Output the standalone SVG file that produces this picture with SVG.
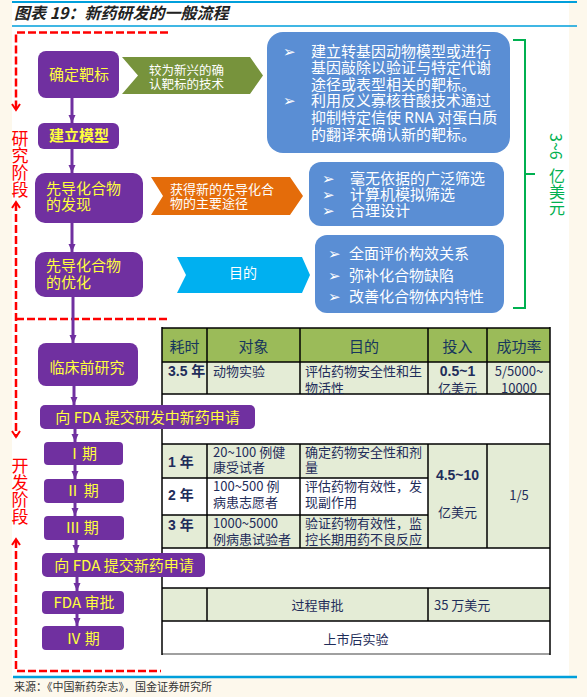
<svg xmlns="http://www.w3.org/2000/svg" width="587" height="697" viewBox="0 0 587 697">
<defs>
<style>
text{font-family:"Noto Sans CJK SC","Noto Sans","DejaVu Sans",sans-serif;}
.nd{fill:#7030A0;}
.nt{fill:#FFFF3C;font-size:15px;}
.wt{fill:#FFFFFF;}
.bx{fill:#5A8ED4;}
.tb{fill:#1F2D5A;font-size:13px;}
.th{fill:#17365D;font-size:15px;text-anchor:middle;}
.bd{font-family:"Liberation Sans","Noto Sans CJK SC",sans-serif;font-weight:bold;font-size:14px;}
.red{fill:#FF0000;font-size:17px;writing-mode:vertical-rl;}
.grn{fill:#00B050;font-size:16px;writing-mode:vertical-rl;}
.dash{stroke:#FF0000;stroke-width:2.5;stroke-dasharray:8 3;fill:none;}
.rarr{stroke:#FF0000;stroke-width:2;fill:none;}
.conn{stroke:#7030A0;stroke-width:3;fill:none;marker-end:url(#ah);}
.tl{stroke:#000;stroke-width:1.5;}
.lg{fill:#E4ECD6;}
</style>
<marker id="ah" viewBox="0 0 8 8" refX="8" refY="4" markerWidth="8" markerHeight="8" orient="auto" markerUnits="userSpaceOnUse"><path d="M0,0.5 L8,4 L0,7.5 z" fill="#7030A0"/></marker>
</defs>

<!-- background -->
<rect x="0" y="0" width="587" height="697" fill="#FDF8EC"/>
<rect x="12" y="0" width="557" height="677" fill="#FFFFFF"/>
<line x1="12" y1="2" x2="577" y2="2" stroke="#009FDB" stroke-width="2"/>
<line x1="12" y1="26" x2="577" y2="26" stroke="#009FDB" stroke-width="1.5"/>
<line x1="13" y1="677" x2="577" y2="677" stroke="#009FDB" stroke-width="2.5"/>
<text x="14" y="19" font-size="16" font-weight="bold" font-style="italic" fill="#222">图表 19：新药研发的一般流程</text>
<text x="14" y="691" font-size="11" fill="#333">来源：《中国新药杂志》，国金证券研究所</text>

<!-- table -->
<g id="table">
<rect x="162" y="328" width="388" height="34" fill="#9BBB59"/>
<rect x="162" y="362" width="388" height="32" class="lg"/>
<rect x="162" y="444" width="266" height="34" class="lg"/>
<rect x="162" y="515" width="266" height="33" class="lg"/>
<rect x="428" y="444" width="122" height="104" class="lg"/>
<rect x="162" y="588" width="388" height="33" class="lg"/>
<line class="tl" x1="162" y1="328" x2="550" y2="328"/>
<line class="tl" x1="162" y1="362" x2="550" y2="362"/>
<line class="tl" x1="162" y1="394" x2="550" y2="394"/>
<line class="tl" x1="162" y1="444" x2="550" y2="444"/>
<line class="tl" x1="162" y1="478" x2="428" y2="478"/>
<line class="tl" x1="162" y1="515" x2="428" y2="515"/>
<line class="tl" x1="162" y1="548" x2="550" y2="548"/>
<line class="tl" x1="162" y1="588" x2="550" y2="588"/>
<line class="tl" x1="162" y1="621" x2="550" y2="621"/>
<line x1="162" y1="654" x2="550" y2="654" stroke="#808080" stroke-width="1.5"/>
<line class="tl" x1="162" y1="327" x2="162" y2="655"/>
<line class="tl" x1="550" y1="327" x2="550" y2="655"/>
<line class="tl" x1="207" y1="328" x2="207" y2="394"/>
<line class="tl" x1="300" y1="328" x2="300" y2="394"/>
<line class="tl" x1="428" y1="328" x2="428" y2="394"/>
<line class="tl" x1="487" y1="328" x2="487" y2="394"/>
<line class="tl" x1="207" y1="444" x2="207" y2="548"/>
<line class="tl" x1="300" y1="444" x2="300" y2="548"/>
<line class="tl" x1="428" y1="444" x2="428" y2="548"/>
<line class="tl" x1="487" y1="444" x2="487" y2="548"/>
<line class="tl" x1="207" y1="588" x2="207" y2="621"/>
<line class="tl" x1="428" y1="588" x2="428" y2="621"/>

<text class="th" x="184.5" y="351.5">耗时</text>
<text class="th" x="253.5" y="351.5">对象</text>
<text class="th" x="364" y="351.5">目的</text>
<text class="th" x="457.5" y="351.5">投入</text>
<text class="th" x="519" y="351.5">成功率</text>

<text class="tb bd" x="168" y="376">3.5 年</text>
<text class="tb" x="213" y="376">动物实验</text>
<text class="tb"><tspan x="305" y="376">评估药物安全性和生</tspan><tspan x="305" y="393">物活性</tspan></text>
<text class="tb" text-anchor="middle"><tspan class="bd" x="457.5" y="376">0.5~1</tspan><tspan x="457.5" y="393">亿美元</tspan></text>
<text class="tb" text-anchor="middle"><tspan x="519" y="376">5/5000~</tspan><tspan x="519" y="393">10000</tspan></text>

<text class="tb bd" x="168" y="467">1 年</text>
<text class="tb"><tspan x="213" y="456.5">20~100 例健</tspan><tspan x="213" y="472">康受试者</tspan></text>
<text class="tb"><tspan x="305" y="456.5">确定药物安全性和剂</tspan><tspan x="305" y="472">量</tspan></text>
<text class="tb bd" x="168" y="500">2 年</text>
<text class="tb"><tspan x="213" y="490.5">100~500 例</tspan><tspan x="213" y="506.5">病患志愿者</tspan></text>
<text class="tb"><tspan x="305" y="490.5">评估药物有效性，发</tspan><tspan x="305" y="506.5">现副作用</tspan></text>
<text class="tb bd" x="168" y="530">3 年</text>
<text class="tb"><tspan x="213" y="528">1000~5000</tspan><tspan x="213" y="544">例病患试验者</tspan></text>
<text class="tb"><tspan x="305" y="528">验证药物有效性，监</tspan><tspan x="305" y="544">控长期用药不良反应</tspan></text>
<text class="tb" text-anchor="middle"><tspan class="bd" x="457.5" y="480">4.5~10</tspan><tspan x="457.5" y="516.5">亿美元</tspan></text>
<text class="tb" x="519" y="500" text-anchor="middle">1/5</text>

<text class="tb" x="317.5" y="610" text-anchor="middle">过程审批</text>
<text class="tb" x="434" y="610">35 万美元</text>
<text class="tb" x="356" y="644" text-anchor="middle">上市后实验</text>
</g>

<!-- stage markers -->
<g id="stages">
<path class="dash" d="M168,32.5 H16 V110"/>
<polyline class="rarr" points="12,104 16,110 20,104"/>
<text class="red" x="20" y="130">研究阶段</text>
<polyline class="rarr" points="12,208 16,202 20,208"/>
<path class="dash" d="M16,203 V437"/>
<path class="dash" d="M16,319 H167"/>
<polyline class="rarr" points="12,431 16,437 20,431"/>
<text class="red" x="20" y="457">开发阶段</text>
<polyline class="rarr" points="12,545 16,539 20,545"/>
<path class="dash" d="M16,540 V671 H161"/>
</g>

<!-- connectors -->
<g id="connectors">
<path class="conn" d="M72,98 V123"/>
<path class="conn" d="M72,149 V173"/>
<path class="conn" d="M72,223 V252"/>
<path class="conn" d="M73,297 V343"/>
<path class="conn" d="M74,386 V405"/>
<path class="conn" d="M75,429 V442"/>
<path class="conn" d="M75,465 V479"/>
<path class="conn" d="M75,503 V516"/>
<path class="conn" d="M76,540 V553"/>
<path class="conn" d="M77,577 V591"/>
<path class="conn" d="M77,614 V626"/>
</g>

<!-- nodes -->
<g id="n-target"><rect class="nd" x="38" y="51" width="81" height="47" rx="8"/><text class="nt" x="79" y="80" text-anchor="middle">确定靶标</text></g>
<g id="n-model"><rect class="nd" x="38" y="123" width="81" height="26" rx="6"/><text class="nt" x="79" y="141" text-anchor="middle" font-weight="bold">建立模型</text></g>
<g id="n-lead-find"><rect class="nd" x="35" y="173" width="108" height="50" rx="10"/><text class="nt"><tspan x="46" y="194">先导化合物</tspan><tspan x="46" y="210">的发现</tspan></text></g>
<g id="n-lead-opt"><rect class="nd" x="35" y="252" width="108" height="45" rx="10"/><text class="nt"><tspan x="46" y="271">先导化合物</tspan><tspan x="46" y="288">的优化</tspan></text></g>
<g id="n-preclin"><rect class="nd" x="38" y="343" width="100" height="43" rx="8"/><text class="nt" x="87" y="373" text-anchor="middle">临床前研究</text></g>
<g id="n-ind"><rect class="nd" x="40" y="405" width="215" height="24" rx="5"/><text class="nt" x="147.5" y="423" text-anchor="middle">向 FDA 提交研发中新药申请</text></g>
<g id="n-p1"><rect class="nd" x="44" y="442" width="79" height="23" rx="4"/><text class="nt" x="82" y="459" text-anchor="middle">Ⅰ期</text></g>
<g id="n-p2"><rect class="nd" x="44" y="479" width="80" height="24" rx="4"/><text class="nt" x="82" y="496" text-anchor="middle">Ⅱ 期</text></g>
<g id="n-p3"><rect class="nd" x="44" y="516" width="80" height="24" rx="4"/><text class="nt" x="82" y="533" text-anchor="middle">Ⅲ 期</text></g>
<g id="n-nda"><rect class="nd" x="42" y="553" width="163" height="24" rx="5"/><text class="nt" x="124" y="571" text-anchor="middle">向 FDA 提交新药申请</text></g>
<g id="n-fda"><rect class="nd" x="42" y="591" width="82" height="23" rx="4"/><text class="nt" x="84" y="608" text-anchor="middle">FDA 审批</text></g>
<g id="n-p4"><rect class="nd" x="42" y="626" width="82" height="24" rx="4"/><text class="nt" x="83" y="644" text-anchor="middle">Ⅳ 期</text></g>

<!-- chevrons -->
<g id="c-green"><polygon points="122,57 250,57 263,75.5 250,94 122,94 138,75.5" fill="#77933C"/><text class="wt" font-size="12.5"><tspan x="149" y="75">较为新兴的确</tspan><tspan x="149" y="89">认靶标的技术</tspan></text></g>
<g id="c-orange"><polygon points="151,177 290,177 303,196 290,215 151,215 163,196" fill="#E46C0A"/><text class="wt" font-size="13"><tspan x="170" y="194">获得新的先导化合</tspan><tspan x="170" y="207.5">物的主要途径</tspan></text></g>
<g id="c-cyan"><polygon points="177,257 302,257 310,275 302,293 177,293 186,275" fill="#00B0F0"/><text class="wt" x="243" y="278" font-size="14" text-anchor="middle">目的</text></g>

<!-- blue boxes -->
<g id="b-target">
<rect class="bx" x="267" y="32" width="243" height="121" rx="16"/>
<text class="wt" font-size="15"><tspan x="283" y="56.5">➢</tspan><tspan x="311" y="56.5">建立转基因动物模型或进行</tspan><tspan x="311" y="73">基因敲除以验证与特定代谢</tspan><tspan x="311" y="89.5">途径或表型相关的靶标。</tspan><tspan x="283" y="106">➢</tspan><tspan x="311" y="106">利用反义寡核苷酸技术通过</tspan><tspan x="311" y="123">抑制特定信使 RNA 对蛋白质</tspan><tspan x="311" y="139.5">的翻译来确认新的靶标。</tspan></text>
</g>
<g id="b-find">
<rect class="bx" x="309" y="162" width="195" height="64" rx="12"/>
<text class="wt" font-size="15"><tspan x="322" y="183.5">➢</tspan><tspan x="350" y="183.5">毫无依据的广泛筛选</tspan><tspan x="322" y="199.5">➢</tspan><tspan x="350" y="199.5">计算机模拟筛选</tspan><tspan x="322" y="216">➢</tspan><tspan x="350" y="216">合理设计</tspan></text>
</g>
<g id="b-opt">
<rect class="bx" x="315" y="235" width="189" height="78" rx="12"/>
<text class="wt" font-size="15"><tspan x="328" y="258.5">➢</tspan><tspan x="349" y="258.5">全面评价构效关系</tspan><tspan x="328" y="280.5">➢</tspan><tspan x="349" y="280.5">弥补化合物缺陷</tspan><tspan x="328" y="302">➢</tspan><tspan x="349" y="302">改善化合物体内特性</tspan></text>
</g>

<!-- cost bracket -->
<g id="cost">
<path d="M513,40 H525 V308 H513 M525,174 H535" stroke="#00B050" stroke-width="2" fill="none"/>
<text class="grn" x="557" y="133">3~6<tspan y="168">亿美元</tspan></text>
</g>
</svg>
